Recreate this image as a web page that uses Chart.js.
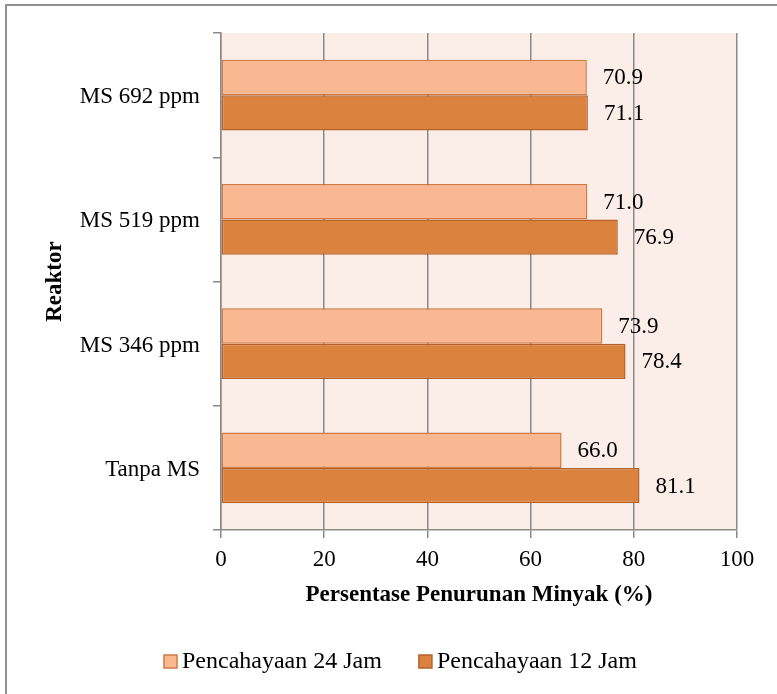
<!DOCTYPE html>
<html>
<head>
<meta charset="utf-8">
<script src="https://cdn.jsdelivr.net/npm/chart.js@4.4.0/dist/chart.umd.min.js"></script>
<style>
  html, body { margin: 0; padding: 0; background: #ffffff; }
  #wrap { width: 777px; height: 694px; position: relative; }
</style>
</head>
<body>
<div id="wrap"><canvas id="c" width="777" height="694"></canvas></div>
<script>
// Reactor groups, top to bottom
const categories = ['MS 692 ppm', 'MS 519 ppm', 'MS 346 ppm', 'Tanpa MS'];
// Oil reduction (%) per lighting regime
const values24h = [70.9, 71.0, 73.9, 66.0];
const values12h = [71.1, 76.9, 78.4, 81.1];
const seriesNames = ['Pencahayaan 24 Jam', 'Pencahayaan 12 Jam'];
const xTickValues = [0, 20, 40, 60, 80, 100];

const SERIF = '"Liberation Serif", "Times New Roman", serif';
const GRID = '#8a8a8a';
const colors = {
  lightFill: '#F9B792', lightEdge: '#D07A43',
  darkFill: '#DB823F', darkEdge: '#B5622A'
};

// Frame, plot background, value labels and legend
const decor = {
  id: 'decor',
  beforeDraw(chart) {
    const { ctx, chartArea: a } = chart;
    ctx.save();
    ctx.fillStyle = '#ffffff';
    ctx.fillRect(0, 0, chart.width, chart.height);
    ctx.fillStyle = '#FBEDE8';
    ctx.fillRect(a.left, a.top, a.right - a.left, a.bottom - a.top);
    ctx.strokeStyle = '#8f8f8f';
    ctx.lineWidth = 2;
    ctx.beginPath();
    ctx.moveTo(6, chart.height);
    ctx.lineTo(6, 5);
    ctx.lineTo(chart.width, 5);
    ctx.stroke();
    ctx.restore();
  },
  afterDatasetsDraw(chart) {
    const { ctx } = chart;
    ctx.save();
    ctx.font = '23px ' + SERIF;
    ctx.fillStyle = '#000000';
    ctx.textAlign = 'left';
    ctx.textBaseline = 'middle';
    chart.data.datasets.forEach((ds, i) => {
      chart.getDatasetMeta(i).data.forEach((bar, j) => {
        ctx.fillText(ds.data[j].toFixed(1), bar.x + 16, bar.y + 1);
      });
    });
    ctx.restore();
  },
  afterDraw(chart) {
    const { ctx } = chart;
    ctx.save();
    ctx.font = '24px ' + SERIF;
    ctx.textBaseline = 'middle';
    ctx.textAlign = 'left';
    let x = 164;
    const y = 662;
    chart.data.datasets.forEach((ds) => {
      ctx.fillStyle = ds.backgroundColor;
      ctx.strokeStyle = ds.borderColor;
      ctx.lineWidth = 1.5;
      ctx.fillRect(x, y - 7, 13, 13);
      ctx.strokeRect(x, y - 7, 13, 13);
      ctx.fillStyle = '#000000';
      ctx.fillText(ds.label, x + 18, y);
      x += 18 + ctx.measureText(ds.label).width + 37;
    });
    ctx.restore();
  }
};

new Chart(document.getElementById('c'), {
  type: 'bar',
  data: {
    labels: categories,
    datasets: [
      {
        label: seriesNames[0], data: values24h,
        backgroundColor: colors.lightFill, borderColor: colors.lightEdge,
        borderWidth: 1.5, borderSkipped: false
      },
      {
        label: seriesNames[1], data: values12h,
        backgroundColor: colors.darkFill, borderColor: colors.darkEdge,
        borderWidth: 1.5, borderSkipped: false
      }
    ]
  },
  options: {
    indexAxis: 'y',
    responsive: false,
    devicePixelRatio: 1,
    animation: false,
    categoryPercentage: 0.571,
    barPercentage: 1.0,
    layout: { padding: { top: 33, right: 40, bottom: 80, left: 0 } },
    plugins: {
      legend: { display: false },
      tooltip: { enabled: false }
    },
    scales: {
      x: {
        type: 'linear',
        min: 0, max: 100,
        afterBuildTicks(scale) { scale.ticks = xTickValues.map(v => ({ value: v })); },
        afterFit(scale) { scale.height = 84; },
        grid: { color: GRID, lineWidth: 1.5, tickLength: 8, drawTicks: true },
        border: { display: true, color: GRID, width: 1.5 },
        ticks: { color: '#000000', font: { family: SERIF, size: 23 }, padding: 8, maxRotation: 0 },
        title: {
          display: true, text: 'Persentase Penurunan Minyak (%)', color: '#000000',
          font: { family: SERIF, size: 23, weight: 'bold' },
          padding: { top: 0, bottom: 5 }
        }
      },
      y: {
        type: 'category',
        afterFit(scale) { scale.width = 221; },
        grid: { drawOnChartArea: false, color: GRID, lineWidth: 1.5, tickLength: 8, offset: true },
        border: { display: true, color: GRID, width: 1.5 },
        ticks: { color: '#000000', font: { family: SERIF, size: 23 }, padding: 13, labelOffset: 2 },
        title: {
          display: true, text: 'Reaktor', color: '#000000',
          font: { family: SERIF, size: 23, weight: 'bold' },
          padding: { top: 41, bottom: 0 }
        }
      }
    }
  },
  plugins: [decor]
});
</script>
</body>
</html>
